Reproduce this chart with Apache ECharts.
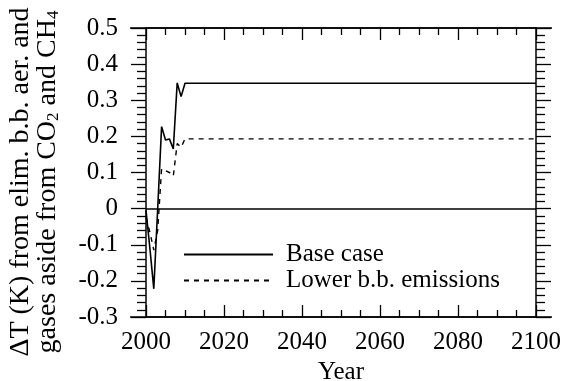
<!DOCTYPE html>
<html>
<head>
<meta charset="utf-8">
<script src="https://cdn.jsdelivr.net/npm/echarts@6/dist/echarts.min.js"></script>
<style>
  html, body { margin: 0; padding: 0; background: #fff; }
  #chart { width: 567px; height: 381px; }
</style>
</head>
<body>
<div id="chart"></div>
<script>
// Temperature response (K) to eliminating biomass-burning aerosols and gases
const years = [2000, 2001, 2002, 2003, 2004, 2005, 2006, 2007, 2008, 2009, 2010, 2100];
const baseCase = [-0.005, -0.11, -0.222, 0.0, 0.227, 0.19, 0.193, 0.165, 0.348, 0.31, 0.347, 0.347];
const lowerEmissions = [-0.025, -0.065, -0.115, -0.06, 0.11, 0.105, 0.10, 0.09, 0.18, 0.17, 0.193, 0.193];
const seriesNames = ['Base case', 'Lower b.b. emissions'];
const xTicks = { min: 2000, max: 2100, step: 20 };
const yTicks = { min: -0.3, max: 0.5, step: 0.1 };
const yTitle = '{t|ΔT (K) from elim. b.b. aer. and}\n{t|gases aside from CO}{s|2}{t| and CH}{s|4}';

const FONT = 'Liberation Serif';
const FS = 25;
const INK = '#000';

const pairs = vals => years.map((y, i) => [y, vals[i]]);

const chart = echarts.init(document.getElementById('chart'), null, { renderer: 'canvas' });

const xCommon = {
  type: 'value',
  min: xTicks.min, max: xTicks.max, interval: xTicks.step,
  axisLine: { show: true, onZero: false, lineStyle: { color: INK, width: 1.5 } },
  axisTick: { show: true, inside: true, length: 12, lineStyle: { color: INK, width: 1.3 } },
  minorTick: { show: true, splitNumber: 4, length: 7, lineStyle: { color: INK, width: 1.3 } },
  splitLine: { show: false }
};
const yCommon = {
  type: 'value',
  min: yTicks.min, max: yTicks.max, interval: yTicks.step,
  axisLine: { show: true, onZero: false, lineStyle: { color: INK, width: 1.5 } },
  axisTick: { show: true, inside: false, length: 15, lineStyle: { color: INK, width: 1.3 } },
  minorTick: { show: true, splitNumber: 5, length: 9, lineStyle: { color: INK, width: 1.3 } },
  splitLine: { show: false }
};

chart.setOption({
  animation: false,
  backgroundColor: '#fff',
  textStyle: { fontFamily: FONT, color: INK },
  grid: { left: 146, right: 31, top: 28, bottom: 64, containLabel: false, outerBoundsMode: 'none' },
  xAxis: [
    Object.assign({}, xCommon, {
      position: 'bottom',
      name: 'Year',
      nameLocation: 'middle',
      nameGap: 29,
      nameTextStyle: { fontFamily: FONT, fontSize: FS, color: INK },
      axisLabel: {
        show: true, margin: 13, fontFamily: FONT, fontSize: FS, color: INK,
        formatter: v => String(v)
      }
    }),
    Object.assign({}, xCommon, { position: 'top', axisLabel: { show: false } })
  ],
  yAxis: [
    Object.assign({}, yCommon, {
      position: 'left',
      axisLabel: {
        show: true, margin: 28, fontFamily: FONT, fontSize: FS, color: INK,
        formatter: v => (Math.abs(v) < 1e-9 ? '0' : v.toFixed(1))
      }
    }),
    Object.assign({}, yCommon, { position: 'right', axisLabel: { show: false } })
  ],
  legend: {
    orient: 'vertical',
    left: 183, top: 242, padding: 0,
    itemWidth: 89, itemHeight: 14, itemGap: 1,
    itemStyle: { opacity: 0 },
    textStyle: { fontFamily: FONT, fontSize: FS, color: INK, padding: [0, 0, 0, 8] },
    data: seriesNames
  },
  series: [
    {
      name: seriesNames[0],
      type: 'line',
      data: pairs(baseCase),
      symbol: 'none',
      lineStyle: { color: INK, width: 1.6, type: 'solid' },
      itemStyle: { color: INK },
      markLine: {
        silent: true, symbol: 'none', label: { show: false },
        lineStyle: { color: INK, width: 1.5, type: 'solid' },
        data: [{ yAxis: 0 }]
      }
    },
    {
      name: seriesNames[1],
      type: 'line',
      data: pairs(lowerEmissions),
      symbol: 'none',
      lineStyle: { color: INK, width: 1.4, type: [5, 5] },
      itemStyle: { color: INK }
    }
  ]
});

// Top and bottom frame lines run past the outer y-axis ticks on both sides
const tl = chart.convertToPixel({ gridIndex: 0 }, [xTicks.min, yTicks.max]);
const br = chart.convertToPixel({ gridIndex: 0 }, [xTicks.max, yTicks.min]);
const ext = 16;
const frameLine = y => ({
  type: 'line', silent: true,
  shape: { x1: tl[0] - ext, y1: y, x2: br[0] + ext, y2: y },
  style: { stroke: INK, lineWidth: 1.5 }
});
chart.setOption({
  graphic: [
    frameLine(tl[1]),
    frameLine(br[1]),
    {
      type: 'text', silent: true,
      x: 35, y: 182, rotation: Math.PI / 2,
      style: {
        text: yTitle, align: 'center', verticalAlign: 'middle', fill: INK,
        rich: {
          t: { fontFamily: FONT, fontSize: 28, lineHeight: 25, fill: INK },
          s: { fontFamily: FONT, fontSize: 17, lineHeight: 29, verticalAlign: 'bottom', fill: INK }
        }
      }
    }
  ]
});
</script>
</body>
</html>
